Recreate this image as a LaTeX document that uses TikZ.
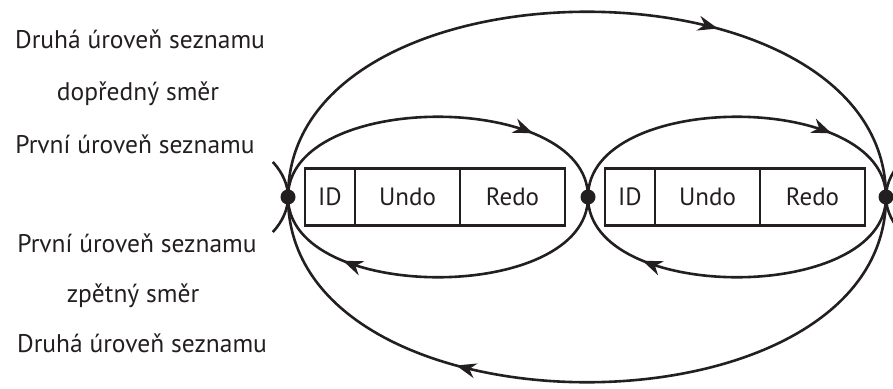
\documentclass[tikz,border=0pt]{standalone}
\usepackage{fontspec}
\setmainfont{PT Sans}
\usetikzlibrary{arrows.meta,decorations.markings,positioning}
\definecolor{ink}{RGB}{35,31,32}

\tikzset{
  cell/.style={draw=ink,rectangle,line width=2.4pt,minimum height=57pt,
    outer sep=0pt,inner sep=0pt,text=ink,font=\fontsize{25}{30}\selectfont},
  knot/.style={circle,fill=ink,minimum size=15pt,inner sep=0pt},
  lbl/.style={anchor=base,text=ink,font=\fontsize{25.5}{30}\selectfont},
  wire/.style={draw=ink,line width=2.6pt},
  link/.style={wire,postaction={decorate},decoration={markings,
    mark=at position #1 with {\arrow[ink]{Stealth[length=20pt,width=15pt]}}}},
}

\begin{document}
\begin{tikzpicture}[x=1pt,y=-1pt]
        \clip (0,0) rectangle (893,388);

        % labels on the left
        \node[lbl] (l1) at (140,48) {Druhá úroveň seznamu};
        \node[lbl] (l2) at (138,100) {dopředný směr};
        \node[lbl] (l3) at (135,153) {První úroveň seznamu};
        \node[lbl] (l4) at (137,252) {První úroveň seznamu};
        \node[lbl] (l5) at (133,302) {zpětný směr};
        \node[lbl] (l6) at (142,352) {Druhá úroveň seznamu};

        % list items
        \node[cell,minimum width=50pt] (id1) at (330,197) {ID};
        \node[cell,minimum width=105pt,right=0pt of id1] (undo1) {Undo};
        \node[cell,minimum width=105pt,right=0pt of undo1] (redo1) {Redo};
        \node[cell,minimum width=50pt] (id2) at (630,197) {ID};
        \node[cell,minimum width=105pt,right=0pt of id2] (undo2) {Undo};
        \node[cell,minimum width=105pt,right=0pt of undo2] (redo2) {Redo};

        % first level
        \path [link=0.76] (288,197) .. controls +(0,-107) and +(0,-107) .. (588,197);
        \path [link=0.76] (588,197) .. controls +(0,107) and +(0,107) .. (288,197);
        \path [link=0.76] (588,197) .. controls +(0,-107) and +(0,-107) .. (886,197);
        \path [link=0.76] (886,197) .. controls +(0,107) and +(0,107) .. (588,197);

        % second level
        \path [link=0.67] (288,197) .. controls +(0,-247) and +(0,-247) .. (886,197);
        \path [link=0.67] (886,197) .. controls +(0,247) and +(0,247) .. (288,197);

        % neighbours
        \path [wire] (288,197) arc[start angle=0,end angle=26,x radius=150,y radius=80];
        \path [wire] (288,197) arc[start angle=0,end angle=-26,x radius=150,y radius=80];
        \path [wire] (886,197) arc[start angle=180,end angle=150,x radius=150,y radius=80];
        \path [wire] (886,197) arc[start angle=180,end angle=210,x radius=150,y radius=80];

        \node[knot] (n0) at (288,197) {};
        \node[knot] (n1) at (588,197) {};
        \node[knot] (n2) at (886,197) {};
    \end{tikzpicture}
\end{document}
